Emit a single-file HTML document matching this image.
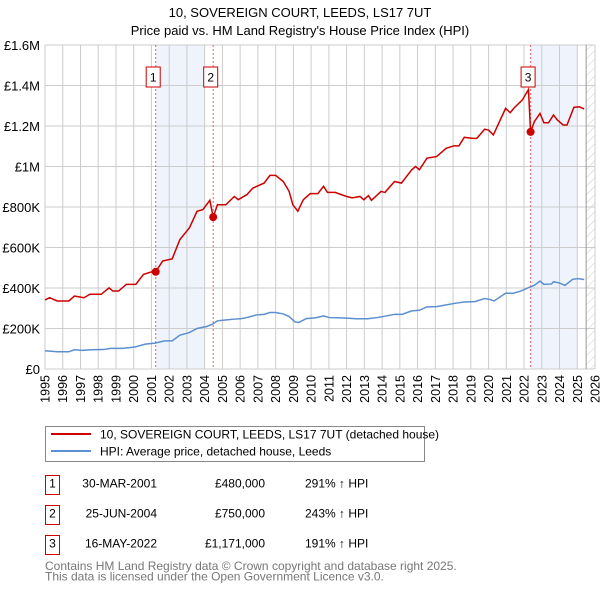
<!DOCTYPE html>
<html><head><meta charset="utf-8"><style>
body{margin:0;background:#fff;font-family:"Liberation Sans","DejaVu Sans",sans-serif;}
#wrap{position:relative;width:600px;height:590px;overflow:hidden;}
</style></head><body><div id="wrap">
<svg id="chart" width="600" height="590" xmlns="http://www.w3.org/2000/svg" font-family="Liberation Sans, DejaVu Sans, sans-serif">
<text x="300" y="17" text-anchor="middle" font-size="13" fill="#000">10, SOVEREIGN COURT, LEEDS, LS17 7UT</text>
<text x="300" y="35" text-anchor="middle" font-size="13" fill="#000">Price paid vs. HM Land Registry's House Price Index (HPI)</text>
<defs><pattern id="hatch" width="6" height="6" patternUnits="userSpaceOnUse" patternTransform="rotate(45)"><line x1="0" y1="0" x2="0" y2="6" stroke="#ccc" stroke-width="1"/></pattern></defs>
<g id="bg"></g><g id="grid"></g><g id="series"></g><g id="axes"></g>
<rect x="45.5" y="426.5" width="379" height="35" fill="#fff" stroke="#888" stroke-width="1"/>
<line x1="51" y1="434" x2="91" y2="434" stroke="#cc0000" stroke-width="2"/>
<text x="100" y="438.5" font-size="12">10, SOVEREIGN COURT, LEEDS, LS17 7UT (detached house)</text>
<line x1="51" y1="451" x2="91" y2="451" stroke="#5b8fd0" stroke-width="2"/>
<text x="100" y="455.5" font-size="12">HPI: Average price, detached house, Leeds</text>
<g font-size="12" fill="#000">
<rect x="45.5" y="475.5" width="14" height="19" fill="none" stroke="#cc0000"/>
<text x="52.5" y="487.5" text-anchor="middle">1</text>
<text x="157" y="487.5" text-anchor="end">30-MAR-2001</text>
<text x="265" y="487.5" text-anchor="end">£480,000</text>
<text x="305" y="487.5">291% ↑ HPI</text>
<rect x="45.5" y="505.5" width="14" height="19" fill="none" stroke="#cc0000"/>
<text x="52.5" y="517.5" text-anchor="middle">2</text>
<text x="157" y="517.5" text-anchor="end">25-JUN-2004</text>
<text x="265" y="517.5" text-anchor="end">£750,000</text>
<text x="305" y="517.5">243% ↑ HPI</text>
<rect x="45.5" y="535.5" width="14" height="19" fill="none" stroke="#cc0000"/>
<text x="52.5" y="547.5" text-anchor="middle">3</text>
<text x="157" y="547.5" text-anchor="end">16-MAY-2022</text>
<text x="265" y="547.5" text-anchor="end">£1,171,000</text>
<text x="305" y="547.5">191% ↑ HPI</text>
</g>
<text x="45" y="570" font-size="12" fill="#777">Contains HM Land Registry data © Crown copyright and database right 2025.</text>
<text x="45" y="580.5" font-size="12" fill="#777">This data is licensed under the Open Government Licence v3.0.</text>
</svg></div>
<script>
const yearTicks=[1995,1996,1997,1998,1999,2000,2001,2002,2003,2004,2005,2006,2007,2008,2009,2010,2011,2012,2013,2014,2015,2016,2017,2018,2019,2020,2021,2022,2023,2024,2025,2026];
const yTickValues=[0,200000,400000,600000,800000,1000000,1200000,1400000,1600000];
const yTickLabels=["£0","£200K","£400K","£600K","£800K","£1M","£1.2M","£1.4M","£1.6M"];
const propYears=[1995.00,1995.26,1995.69,1996.02,1996.34,1996.66,1997.20,1997.53,1998.17,1998.61,1998.82,1999.15,1999.58,2000.12,2000.55,2000.98,2001.24,2001.63,2002.17,2002.60,2003.14,2003.57,2003.90,2004.29,2004.48,2004.72,2005.19,2005.67,2005.89,2006.38,2006.71,2007.35,2007.68,2008.00,2008.43,2008.76,2008.97,2009.25,2009.56,2009.95,2010.38,2010.70,2010.92,2011.35,2012.00,2012.32,2012.75,2012.97,2013.23,2013.40,2013.94,2014.16,2014.70,2015.09,2015.67,2015.89,2016.10,2016.53,2017.07,2017.61,2018.05,2018.33,2018.63,2019.13,2019.34,2019.78,2020.00,2020.27,2020.96,2021.22,2021.47,2021.90,2022.25,2022.37,2022.58,2022.90,2023.12,2023.38,2023.66,2023.88,2024.20,2024.42,2024.81,2025.11,2025.39];
const propValues=[341,352,336,336,336,360,352,369,369,401,385,385,418,418,467,479,480,533,544,639,697,779,787,833,750,811,811,852,836,861,893,918,956,956,926,877,811,779,836,866,866,902,872,872,852,845,852,836,856,833,877,872,926,918,984,1000,984,1041,1049,1090,1102,1102,1144,1139,1139,1184,1180,1156,1287,1266,1292,1328,1380,1171,1221,1262,1216,1216,1254,1230,1205,1205,1292,1295,1284];
const hpiYears=[1995.00,1995.69,1996.34,1996.66,1997.10,1997.63,1998.28,1998.71,1999.36,1999.90,2000.12,2000.66,2001.20,2001.74,2002.17,2002.60,2003.14,2003.57,2004.11,2004.44,2004.72,2005.30,2005.63,2006.06,2006.38,2006.92,2007.35,2007.68,2008.00,2008.43,2008.76,2009.08,2009.30,2009.73,2010.27,2010.70,2011.03,2011.46,2012.00,2012.54,2013.19,2013.73,2014.05,2014.70,2015.13,2015.67,2016.10,2016.53,2017.07,2017.50,2018.15,2018.63,2019.23,2019.78,2020.10,2020.31,2020.96,2021.39,2021.82,2022.26,2022.58,2022.90,2023.12,2023.55,2023.66,2023.98,2024.31,2024.74,2025.06,2025.39];
const hpiValues=[90,85,85,95,92,95,96,102,102,107,110,123,128,139,139,167,180,200,210,221,238,243,246,249,254,267,270,279,279,272,259,233,230,249,253,262,254,253,251,248,248,254,259,270,270,287,290,307,308,315,325,331,333,348,343,336,374,374,385,402,413,434,418,420,431,425,413,443,446,442];
const saleYears=[2001.24,2004.48,2022.37];
const salePrices=[480,750,1171];
const saleLabels=["1","2","3"];
const shadeStarts=[2001.24,2022.37];
const shadeEnds=[2004.0,2025.0];
const dataEnd=2025.5;

const NS="http://www.w3.org/2000/svg";
const X0=45,X1=595,Y0=369,Y1=45;
const xs=y=>X0+(y-1995)/(2026-1995)*(X1-X0);
const ys=v=>Y0-v/1600000*(Y0-Y1);
const yk=v=>ys(v*1000);
function mk(tag,attrs,parent){const e=document.createElementNS(NS,tag);for(const k in attrs)e.setAttribute(k,attrs[k]);parent.appendChild(e);return e;}
const bg=document.getElementById('bg'),grid=document.getElementById('grid'),ser=document.getElementById('series'),ax=document.getElementById('axes');
shadeStarts.forEach((s,i)=>{const r=mk('rect',{x:xs(s),y:Y1,width:xs(shadeEnds[i])-xs(s),height:Y0-Y1,fill:'#eef3fc'},bg);

});
const h=mk('rect',{x:xs(dataEnd),y:Y1,width:X1-xs(dataEnd),height:Y0-Y1,fill:'url(#hatch)'},bg);


yearTicks.forEach(t=>{const l=mk('line',{x1:xs(t),x2:xs(t),y1:Y1,y2:Y0,stroke:'#ccc','stroke-width':1},grid);


const tx=mk('text',{x:0,y:0,'text-anchor':'end','font-size':12.5,transform:'translate('+(xs(t)+4.5)+',375) rotate(-90)'},ax);tx.textContent=t;

});
yTickValues.forEach((v,i)=>{const l=mk('line',{x1:X0,x2:X1,y1:ys(v),y2:ys(v),stroke:'#ccc','stroke-width':1},grid);


const tx=mk('text',{x:40,y:ys(v)+5,'text-anchor':'end','font-size':13},ax);tx.textContent=yTickLabels[i];

});
const el=mk('line',{x1:xs(dataEnd),x2:xs(dataEnd),y1:Y1,y2:Y0,stroke:'#999','stroke-width':1},grid);


saleYears.forEach((s,i)=>{const l=mk('line',{x1:xs(s),x2:xs(s),y1:Y1,y2:Y0,stroke:'#f06060','stroke-width':1,'stroke-dasharray':'2,2'},grid);

});
const hp=mk('polyline',{points:hpiYears.map((y,i)=>xs(y)+','+yk(hpiValues[i])).join(' '),fill:'none',stroke:'#5b8fd0','stroke-width':1.5},ser);


const pp=mk('polyline',{points:propYears.map((y,i)=>xs(y)+','+yk(propValues[i])).join(' '),fill:'none',stroke:'#cc0000','stroke-width':1.5},ser);


saleYears.forEach((s,i)=>{const c=mk('circle',{cx:xs(s),cy:yk(salePrices[i]),r:4,fill:'#cc0000'},ser);


const bx=xs(s)-9.5;
const r=mk('rect',{x:bx,y:67,width:14,height:20,fill:'#fff',stroke:'#cc0000'},ser);


const t=mk('text',{x:bx+7,y:81.5,'text-anchor':'middle','font-size':12},ser);t.textContent=saleLabels[i];

});
</script></body></html>
